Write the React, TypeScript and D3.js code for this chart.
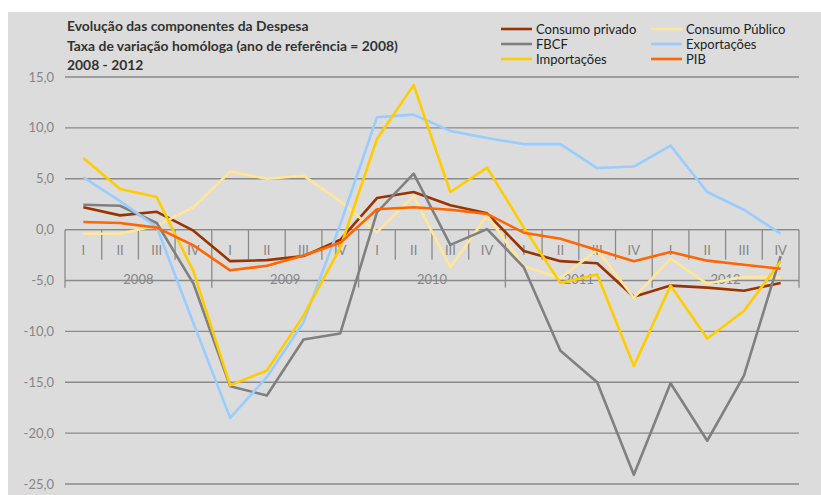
import React from 'react';
import * as d3 from 'd3';

const years = ['2008', '2009', '2010', '2011', '2012'];
const quarters = ['I', 'II', 'III', 'IV'];
const yTicks = [15, 10, 5, 0, -5, -10, -15, -20, -25];

const consumoPrivado = [2.2, 1.4, 1.75, -0.1, -3.1, -3.0, -2.6, -1.0, 3.1, 3.7, 2.4, 1.6, -2.1, -3.1, -3.3, -6.6, -5.5, -5.7, -6.0, -5.25];
const consumoPublico = [-0.4, -0.4, 0.4, 2.2, 5.7, 5.0, 5.3, 2.8, -0.25, 3.3, -3.7, 1.4, -3.6, -4.75, -2.0, -6.7, -2.85, -5.3, -4.65, -4.7];
const fbcf = [2.45, 2.35, 0.65, -5.3, -15.4, -16.3, -10.8, -10.2, 1.7, 5.5, -1.5, 0.05, -3.7, -11.9, -15.0, -24.1, -15.1, -20.75, -14.35, -2.6];
const exportacoes = [5.15, 2.8, 0.25, -9.2, -18.5, -14.5, -9.1, 0.5, 11.05, 11.3, 9.7, 9.0, 8.4, 8.4, 6.05, 6.2, 8.25, 3.7, 1.95, -0.4];
const importacoes = [7.05, 4.0, 3.2, -4.1, -15.3, -13.85, -8.45, -1.8, 8.9, 14.2, 3.7, 6.1, 0.2, -5.25, -4.4, -13.4, -5.5, -10.7, -8.0, -3.1];
const pib = [0.75, 0.65, 0.2, -1.55, -4.0, -3.55, -2.55, -1.3, 2.0, 2.2, 1.95, 1.55, -0.3, -0.9, -2.0, -3.1, -2.2, -3.05, -3.45, -3.85];

const series = [
  { name: 'Consumo privado', color: '#993300', values: consumoPrivado },
  { name: 'Consumo Público', color: '#ffe699', values: consumoPublico },
  { name: 'FBCF', color: '#808080', values: fbcf },
  { name: 'Exportações', color: '#99ccff', values: exportacoes },
  { name: 'Importações', color: '#ffcc00', values: importacoes },
  { name: 'PIB', color: '#ff6600', values: pib },
];

const categories = years.flatMap((y) => quarters.map((q) => `${y}-${q}`));

const W = 821;
const H = 495;
const plot = { left: 65, right: 799, top: 77, bottom: 484 };
const font = 'Lato, Calibri, "Open Sans", sans-serif';
const axisColor = '#8a8a8a';
const labelColor = '#868686';

export default function App() {
  const x = d3.scaleBand().domain(categories).range([plot.left, plot.right]).padding(0);
  const y = d3.scaleLinear().domain([-25, 15]).range([plot.bottom, plot.top]);
  const bw = x.bandwidth();
  const cx = (i: number) => (x(categories[i]) as number) + bw / 2;
  const line = d3
    .line<number>()
    .x((_, i) => cx(i))
    .y((d) => y(d));

  const y0 = y(0);
  const legendCols = [501, 651];
  const legendRows = [29, 44, 59];

  return (
    <svg width={W} height={H} style={{ position: 'absolute', left: 0, top: 0 }} fontFamily={font}>
      <rect x={0} y={0} width={W} height={H} fill="#fff" />
      <rect x={8} y={12} width={W - 8} height={H - 12} fill="#dcdcdc" />

      {/* gridlines + y labels */}
      {yTicks.map((t) => (
        <g key={t}>
          <line x1={plot.left} x2={plot.right} y1={y(t)} y2={y(t)} stroke={axisColor} strokeWidth={1.3} />
          <text x={54} y={y(t)} dy="0.35em" textAnchor="end" fontSize={13} fill={labelColor}>
            {d3.format('.1f')(t).replace('.', ',').replace('−', '-')}
          </text>
        </g>
      ))}

      {/* category axis at zero */}
      <line x1={plot.left} x2={plot.right} y1={y0} y2={y0} stroke={axisColor} strokeWidth={1.3} />
      {categories.map((c, i) => (
        <g key={c}>
          <line
            x1={x(c) as number}
            x2={x(c) as number}
            y1={y0}
            y2={i % 4 === 0 ? y0 + 58 : y0 + 30}
            stroke={axisColor}
            strokeWidth={1.3}
          />
          <text x={cx(i)} y={y0 + 21} dy="0.35em" textAnchor="middle" fontSize={13} fill={labelColor}>
            {quarters[i % 4]}
          </text>
        </g>
      ))}
      <line x1={plot.right} x2={plot.right} y1={y0} y2={y0 + 58} stroke={axisColor} strokeWidth={1.3} />
      {years.map((yr) => {
        const a = x(`${yr}-I`) as number;
        return (
          <text key={yr} x={a + bw * 2} y={y0 + 50} dy="0.35em" textAnchor="middle" fontSize={13} fill={labelColor}>
            {yr}
          </text>
        );
      })}

      {/* series */}
      {series.map((s) => (
        <path key={s.name} d={line(s.values) as string} fill="none" stroke={s.color} strokeWidth={2.6} strokeLinejoin="round" />
      ))}

      {/* title */}
      <g fontSize={13.9} fontWeight="bold" fill="#333">
        <text x={67} y={31}>Evolução das componentes da Despesa</text>
        <text x={67} y={51}>Taxa de variação homóloga (ano de referência = 2008)</text>
        <text x={67} y={70}>2008 - 2012</text>
      </g>

      {/* legend */}
      {series.map((s, i) => {
        const lx = legendCols[i % 2];
        const ly = legendRows[Math.floor(i / 2)];
        return (
          <g key={s.name}>
            <line x1={lx} x2={lx + 31} y1={ly} y2={ly} stroke={s.color} strokeWidth={2.6} />
            <text x={lx + 35} y={ly} dy="0.35em" fontSize={13} fill="#222">
              {s.name}
            </text>
          </g>
        );
      })}
    </svg>
  );
}
